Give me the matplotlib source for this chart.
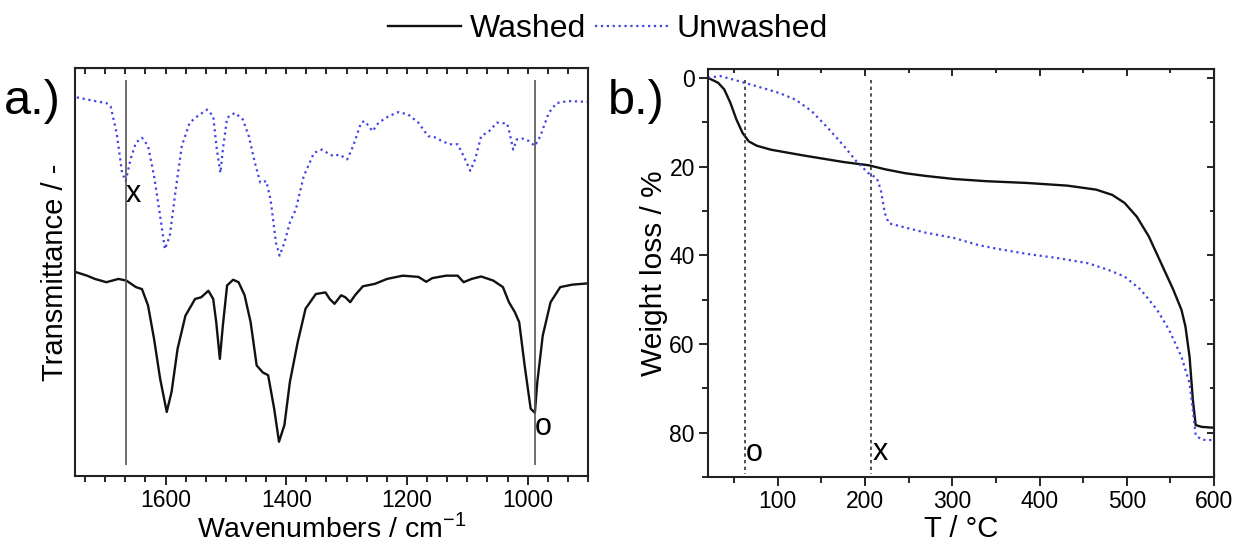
import numpy as np
import matplotlib.pyplot as plt
from matplotlib.ticker import MultipleLocator

plt.rcParams['font.family'] = ['Liberation Sans', 'DejaVu Sans']

#%% data

# a.) FTIR, transmittance in arbitrary units (0 = bottom of frame, 100 = top)
wn_unwashed = [1747, 1717, 1698, 1691, 1681, 1672, 1666, 1658, 1649, 1639, 1629, 1619,
               1609, 1601, 1593, 1583, 1573, 1560, 1547, 1531, 1521, 1515, 1509, 1505,
               1498, 1485, 1472, 1462, 1452, 1443, 1433, 1426, 1417, 1411, 1403, 1394,
               1384, 1371, 1354, 1341, 1332, 1322, 1312, 1299, 1289, 1276, 1270, 1263,
               1257, 1247, 1230, 1214, 1198, 1181, 1165, 1155, 1142, 1129, 1116, 1106,
               1095, 1087, 1077, 1064, 1051, 1034, 1030, 1024, 1018, 1008, 998, 988,
               979, 965, 952, 933, 901]
tr_unwashed = [92.8, 91.9, 91.4, 90.6, 84.1, 74.3, 72.3, 77.6, 81.7, 82.9, 80.9, 73.5,
               63.8, 55.6, 58.8, 70.3, 80.9, 86.6, 88.2, 89.8, 88.2, 80.0, 74.3, 80.0,
               87.8, 89.0, 87.4, 83.3, 76.8, 71.9, 72.3, 67.8, 57.2, 54.0, 57.2, 62.1,
               65.4, 73.5, 79.2, 80.0, 79.2, 78.4, 78.8, 77.6, 80.9, 86.6, 87.0, 85.7,
               84.5, 86.6, 88.2, 89.2, 88.6, 86.6, 83.3, 83.1, 82.1, 81.3, 81.3, 78.4,
               74.8, 77.6, 83.3, 84.5, 86.6, 86.4, 84.1, 80.0, 82.5, 82.7, 82.1, 80.9,
               83.3, 89.0, 91.4, 91.9, 91.7]

wn_washed = [1747, 1730, 1717, 1698, 1678, 1665, 1649, 1639, 1629, 1619, 1609, 1598,
             1590, 1580, 1567, 1551, 1541, 1529, 1521, 1516, 1510, 1505, 1498, 1488,
             1479, 1469, 1459, 1449, 1439, 1430, 1420, 1412, 1403, 1394, 1381, 1368,
             1351, 1335, 1328, 1320, 1309, 1302, 1294, 1286, 1273, 1253, 1233, 1207,
             1181, 1168, 1158, 1135, 1116, 1106, 1093, 1077, 1057, 1041, 1031, 1021,
             1014, 1005, 995, 988, 984, 975, 962, 946, 926, 901]
tr_washed = [49.9, 49.1, 48.3, 47.5, 48.3, 47.9, 46.3, 45.8, 41.8, 33.6, 23.9, 15.7,
             20.6, 31.2, 39.3, 43.4, 43.8, 45.4, 43.4, 37.7, 28.7, 36.9, 46.7, 48.1,
             47.5, 44.3, 37.7, 27.1, 25.4, 24.7, 16.5, 8.4, 12.5, 23.0, 32.8, 41.0,
             44.6, 45.0, 43.4, 42.2, 44.3, 43.8, 42.6, 44.3, 46.5, 47.1, 48.3, 49.1,
             48.8, 47.6, 48.5, 49.1, 49.1, 47.5, 48.3, 48.9, 47.9, 46.3, 42.6, 40.1,
             37.7, 27.1, 16.5, 15.5, 23.0, 34.4, 42.6, 46.3, 46.9, 47.2]

ftir_marks = [1666, 988]

# b.) TGA
t_washed = [20, 31.6, 38.6, 45.6, 52.6, 59.6, 66.6, 75.9, 92.2, 129.5, 176.1, 204,
            222.7, 246, 269, 301.8, 339, 385.7, 432, 464.9, 483.5, 497.5, 511.5,
            525.4, 539.4, 553.4, 562.7, 567.3, 572, 575.8, 579, 586, 600]
wl_washed = [0, 1.1, 2.6, 5.6, 9.4, 12.4, 14.3, 15.3, 16.2, 17.5, 19.0, 19.7,
             20.6, 21.5, 22.1, 22.8, 23.3, 23.7, 24.3, 25.2, 26.4, 28.2, 31.3,
             35.8, 41.8, 47.8, 52.3, 56.1, 62.9, 72.7, 78.3, 78.7, 78.9]

t_unwashed = [20, 34, 45.6, 61.9, 82.9, 101.5, 120.2, 138.8, 157.4, 176, 190, 204,
              213.4, 218, 222.7, 227.3, 241.3, 269.3, 301.8, 329.8, 353, 385.7, 423,
              455.6, 478.9, 497.5, 516.2, 534.8, 548.7, 562.7, 572, 575.8, 579, 586, 600]
wl_unwashed = [0, -0.4, 0.2, 1.1, 2.3, 3.4, 4.9, 7.5, 11.3, 15.4, 18.8, 21.5,
               22.6, 25.2, 30.5, 32.8, 33.5, 34.9, 36.1, 37.7, 38.6, 39.7, 40.7,
               41.8, 43.3, 44.8, 47.8, 52.3, 56.9, 62.9, 68.9, 74.9, 80.6, 81.6, 81.7]

tga_marks = [62, 207]

#%% plot

black = '#111111'
blue = '#4444e4'

fig = plt.figure(figsize=(12.38, 5.48), dpi=100)

ax1 = fig.add_axes([75/1238, 72/548, 513/1238, 408/548])
ax2 = fig.add_axes([708/1238, 71/548, 506/1238, 408/548])

def frame(ax):
    for s in ax.spines.values():
        s.set_linewidth(1.5)
        s.set_color('#222222')
    ax.tick_params(which='both', direction='out', width=1.2, labelsize=16.5, pad=3)
    ax.tick_params(which='major', length=6.5)
    ax.tick_params(which='minor', length=4.5)

# FTIR
l_w, = ax1.plot(wn_washed, tr_washed, color=black, lw=1.7, label='Washed')
l_u, = ax1.plot(wn_unwashed, tr_unwashed, color=blue, lw=1.6, ls=':', label='Unwashed')
ax1.vlines(ftir_marks, 2.7, 97, color='#555555', lw=1.2)
ax1.text(ftir_marks[0] - 13, 69, 'x', fontsize=22, ha='center', va='center')
ax1.text(ftir_marks[1] - 13, 12, 'o', fontsize=22, ha='center', va='center')
ax1.set_xlim(1750, 900)
ax1.set_ylim(0, 100)
ax1.set_yticks([])
ax1.xaxis.set_major_locator(MultipleLocator(200))
ax1.xaxis.set_minor_locator(MultipleLocator(200/6))
frame(ax1)
ax1.set_xlabel('Wavenumbers / cm$^{\\mathregular{-1}}$', fontsize=20.5, labelpad=1)
ax1.set_ylabel('Transmittance / -', fontsize=21)
ax1.yaxis.set_label_coords(-0.012, 0.5)
top1 = ax1.secondary_xaxis('top')
top1.xaxis.set_major_locator(MultipleLocator(200/6))
top1.tick_params(direction='in', length=4, width=1.2, labeltop=False)

# TGA
ax2.plot(t_washed, wl_washed, color=black, lw=1.7)
ax2.plot(t_unwashed, wl_unwashed, color=blue, lw=1.6, ls=':')
ax2.vlines(tga_marks, 0.5, 89.3, color='#333333', lw=1.2, linestyles=(0, (2, 2)))
ax2.text(tga_marks[0] + 11, 84.7, 'o', fontsize=22, ha='center', va='center')
ax2.text(tga_marks[1] + 10, 84.3, 'x', fontsize=22, ha='center', va='center')
ax2.set_xlim(20, 600)
ax2.set_ylim(90, -2)
ax2.xaxis.set_major_locator(MultipleLocator(100))
ax2.xaxis.set_minor_locator(MultipleLocator(50))
ax2.yaxis.set_major_locator(MultipleLocator(20))
ax2.yaxis.set_minor_locator(MultipleLocator(10))
frame(ax2)
ax2.set_xlabel('T / °C', fontsize=21, labelpad=1)
ax2.set_ylabel('Weight loss / %', fontsize=21.5)
ax2.yaxis.set_label_coords(-0.08, 0.5)
top2 = ax2.secondary_xaxis('top')
top2.xaxis.set_major_locator(MultipleLocator(100))
top2.xaxis.set_minor_locator(MultipleLocator(50))
top2.tick_params(which='both', direction='in', width=1.2, labeltop=False)
top2.tick_params(which='major', length=5)
top2.tick_params(which='minor', length=3)
right2 = ax2.secondary_yaxis('right')
right2.yaxis.set_major_locator(MultipleLocator(20))
right2.yaxis.set_minor_locator(MultipleLocator(10))
right2.tick_params(which='both', direction='in', width=1.2, labelright=False)
right2.tick_params(which='major', length=5)
right2.tick_params(which='minor', length=3)

fig.text(4/1238, 1 - 102/548, 'a.)', fontsize=35, va='center', ha='left')
fig.text(608/1238, 1 - 102/548, 'b.)', fontsize=35, va='center', ha='left')

fig.legend([l_w, l_u], ['Washed', 'Unwashed'], loc='center',
           bbox_to_anchor=(608/1238, 1 - 29/548), ncol=2, frameon=False,
           fontsize=23, handlelength=2.3, handletextpad=0.25,
           columnspacing=0.3, borderpad=0)

fig.savefig('out.png', dpi=100)
